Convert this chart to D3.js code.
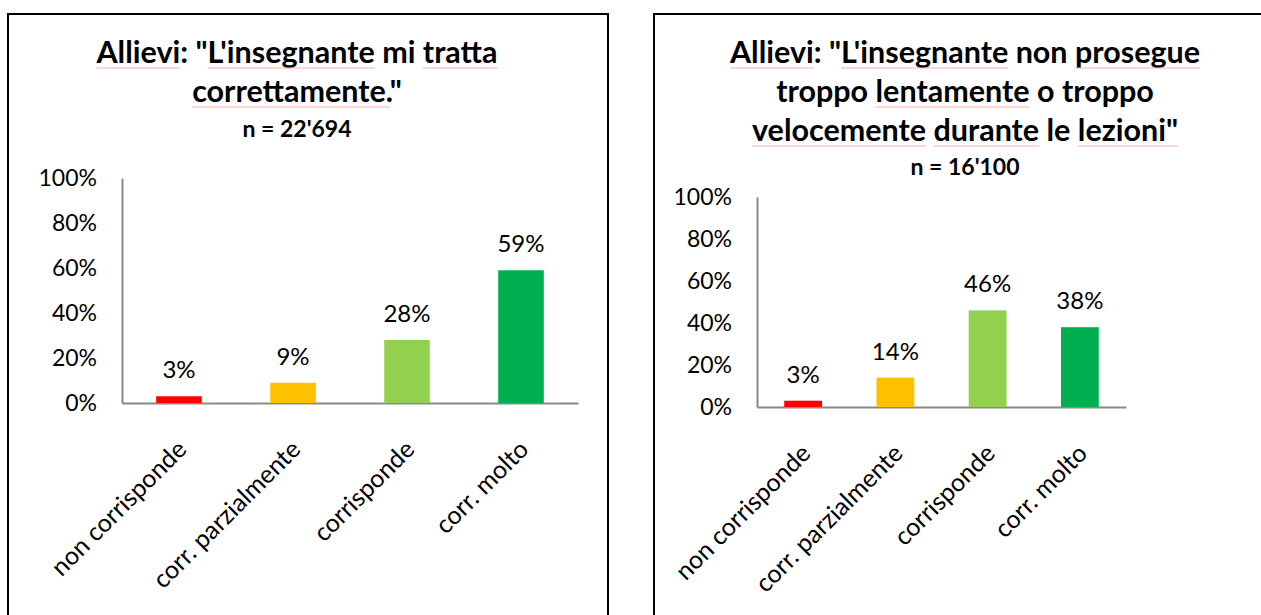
<!DOCTYPE html>
<html>
<head>
<meta charset="utf-8">
<script src="https://cdn.jsdelivr.net/npm/d3@7"></script>
<style>
  body { margin: 0; background: #fff; }
  text { font-family: Lato, "Open Sans", sans-serif; fill: #000; }
</style>
</head>
<body>
<div id="charts"></div>
<script>
// data
var categories = ["non corrisponde", "corr. parzialmente", "corrisponde", "corr. molto"];
var trattaValues = [3, 9, 28, 59];
var ritmoValues = [3, 14, 46, 38];
var tickValues = [0, 20, 40, 60, 80, 100];
var barColors = ["#FF0000", "#FFC000", "#92D050", "#00B050"];

var trattaTitle = ["Allievi: \"L'insegnante mi tratta", "correttamente.\""];
var trattaN = "n = 22'694";
var trattaFlagged = ["Allievi", "L'insegnante", "tratta", "correttamente."];

var ritmoTitle = ["Allievi: \"L'insegnante non prosegue", "troppo lentamente o troppo", "velocemente durante le lezioni\""];
var ritmoN = "n = 16'100";
var ritmoFlagged = ["Allievi", "L'insegnante", "prosegue", "lentamente", "velocemente", "durante", "lezioni\""];

var svg = d3.select("#charts")
  .append("svg")
  .attr("width", 1261)
  .attr("height", 615);

svg.append("rect")
  .attr("width", 1261)
  .attr("height", 615)
  .attr("fill", "#fff");

//---------------------------------------------------------------------
// one framed chart
function drawPanel(opt) {
  var g = svg.append("g");

  // frame
  g.append("rect")
    .attr("x", opt.frame[0])
    .attr("y", opt.frame[1])
    .attr("width", opt.frame[2])
    .attr("height", opt.frame[3])
    .attr("fill", "none")
    .attr("stroke", "#000")
    .attr("stroke-width", 2);

  // title lines
  var lines = opt.title.slice();
  lines.push(opt.n);

  lines.forEach(function(line, i) {
    var isN = i === lines.length - 1;
    var y = isN ? opt.nY : opt.titleY + i * 39;
    var t = g.append("text")
      .attr("x", opt.cx)
      .attr("y", y)
      .attr("text-anchor", "middle")
      .attr("font-weight", "bold")
      .attr("font-size", isN ? opt.nSize : opt.titleSize)
      .text(line);

    if (isN) return;

    // spell-check squiggles under the flagged words
    var node = t.node();
    var total = node.getComputedTextLength();
    var x0 = opt.cx - total / 2;
    opt.flagged.forEach(function(w) {
      var k = line.indexOf(w);
      if (k < 0) return;
      var start = k > 0 ? node.getSubStringLength(0, k) : 0;
      var len = node.getSubStringLength(k, w.length);
      g.append("line")
        .attr("x1", x0 + start)
        .attr("x2", x0 + start + len)
        .attr("y1", y + 5)
        .attr("y2", y + 5)
        .attr("stroke", "#f5b0b0")
        .attr("stroke-width", 1);
    });
  });

  // scales
  var x = d3.scaleBand()
    .domain(categories)
    .range([opt.left, opt.right])
    .paddingInner(opt.pad)
    .paddingOuter(opt.pad / 2);

  var y = d3.scaleLinear()
    .domain([0, 100])
    .range([opt.bottom, opt.top]);

  // axes
  var leftAxis = d3.axisLeft(y)
    .tickValues(tickValues)
    .tickSize(0)
    .tickPadding(25)
    .tickFormat(function(d) { return d + "%"; });

  var yAxis = g.append("g")
    .attr("transform", `translate(${opt.left}, 0)`)
    .call(leftAxis);
  yAxis.selectAll("text")
    .attr("font-size", 23)
    .attr("font-family", "Lato")
    .attr("fill", "#000");

  var bottomAxis = d3.axisBottom(x).tickSize(0);

  var xAxis = g.append("g")
    .attr("transform", `translate(0, ${opt.bottom})`)
    .call(bottomAxis);
  xAxis.selectAll("text")
    .attr("font-size", 25)
    .attr("font-family", "Lato")
    .attr("fill", "#000")
    .attr("text-anchor", "end")
    .attr("x", 0)
    .attr("y", 0)
    .attr("dy", 0)
    .attr("transform", "translate(9, 48) rotate(-45)");

  g.selectAll(".domain")
    .attr("stroke", "#898989")
    .attr("stroke-width", 2);

  // bars
  g.selectAll(".bar")
    .data(opt.values)
    .enter()
    .append("rect")
    .attr("x", (d, i) => x(categories[i]))
    .attr("y", d => y(d))
    .attr("width", x.bandwidth())
    .attr("height", d => y(0) - y(d))
    .attr("fill", (d, i) => barColors[i]);

  // value labels
  g.selectAll(".val")
    .data(opt.values)
    .enter()
    .append("text")
    .attr("x", (d, i) => x(categories[i]) + x.bandwidth() / 2)
    .attr("y", d => y(d) - 18)
    .attr("text-anchor", "middle")
    .attr("font-size", 24)
    .text(d => d + "%");
}

drawPanel({
  frame: [8, 14, 600, 640],
  cx: 297,
  title: trattaTitle,
  n: trattaN,
  flagged: trattaFlagged,
  titleY: 63,
  titleSize: 30.5,
  nY: 137,
  nSize: 23,
  values: trattaValues,
  left: 122, right: 578, top: 178, bottom: 403,
  pad: 0.6
});

drawPanel({
  frame: [654, 14, 700, 640],
  cx: 965,
  title: ritmoTitle,
  n: ritmoN,
  flagged: ritmoFlagged,
  titleY: 63,
  titleSize: 30.5,
  nY: 175,
  nSize: 23,
  values: ritmoValues,
  left: 757, right: 1126, top: 197, bottom: 407,
  pad: 0.59
});
</script>
</body>
</html>
